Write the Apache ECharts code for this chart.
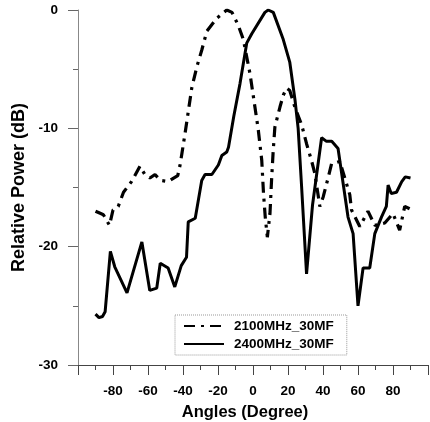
<!DOCTYPE html>
<html><head><meta charset="utf-8">
<script src="https://cdn.jsdelivr.net/npm/echarts@6/dist/echarts.min.js"></script>
<style>html,body{margin:0;padding:0;background:#fff}#c{width:430px;height:422px}</style>
</head><body><div id="c"></div>
<script>
const seriesNames = ['2100MHz_30MF', '2400MHz_30MF'];
const angles2100 = [-90,-87,-85.5,-82,-80,-77,-74,-69.4,-64.6,-61.8,-58.9,-56,-53,-48.5,-43,-41.8,-40.6,-38.8,-36.9,-35,-32.1,-29.3,-26.4,-20.7,-15,-12,-8.4,-5.5,-1.7,1.1,3,5,6,7,8.2,9.7,10.6,11.5,12.5,15.4,17.3,19.2,21,23.9,27.8,30.6,33.4,35.3,38.2,40.1,42.9,44.9,49.6,55.3,56.3,61,65.7,69.6,75.3,80,83.8,86.7,89.5];
const power2100 = [-17.0,-17.2,-17.3,-18.2,-16.9,-16.6,-15.4,-14.5,-13.2,-13.9,-14.2,-13.9,-14.4,-14.5,-14.0,-13.2,-12.1,-10.4,-8.5,-6.6,-4.8,-3.4,-1.8,-0.7,0,-0.2,-1.3,-2.5,-5.4,-8.2,-10.1,-12.7,-15.5,-17.5,-19.2,-17.2,-14.4,-12,-9.9,-8.2,-7.2,-6.6,-6.8,-8.2,-9.7,-11.3,-12.7,-13.8,-16.6,-15.8,-14.2,-13.0,-12.8,-15.6,-16.9,-18.3,-17.0,-18.2,-18.0,-17.2,-18.6,-16.6,-16.8];
const angles2400 = [-90,-88,-86,-84.5,-81.5,-79,-72,-63.5,-59,-55,-53,-48.5,-44.7,-41,-38,-37,-33,-29.3,-27.4,-23.5,-19.8,-17.8,-15,-14,-11,-7.4,-3.6,-0.7,6.8,8.7,11.6,17.3,21,24,25.8,27.8,30.6,34,39.2,42,45,48.6,54.3,57.2,60,62.9,66.7,69.6,73.4,76.2,77.2,79,82,85,87,90];
const power2400 = [-25.7,-26.0,-25.9,-25.5,-20.4,-21.7,-23.9,-19.6,-23.7,-23.5,-21.4,-21.8,-23.4,-21.6,-20.9,-17.9,-17.6,-14.4,-13.9,-13.9,-13.1,-12.3,-12.0,-11.6,-9.0,-6.2,-2.8,-2.0,-0.2,0,-0.2,-2.5,-4.4,-7.6,-10,-15,-22.3,-16.5,-10.8,-11.1,-11.1,-11.7,-17.5,-18.9,-25.0,-21.8,-21.8,-18.9,-17.5,-16.6,-14.8,-15.5,-15.4,-14.5,-14.1,-14.2];
const xTicks = [-80,-60,-40,-20,0,20,40,60,80];
const yTicks = [0,-10,-20,-30];
const xTitle = 'Angles (Degree)';
const yTitle = 'Relative Power (dB)';

const pairs = (xs, ys) => xs.map((x, i) => [x, ys[i]]);
const font = 'Liberation Sans, Arial, sans-serif';
const chart = echarts.init(document.getElementById('c'));
chart.setOption({
  animation: false,
  backgroundColor: '#fff',
  grid: {left: 78, right: 2, top: 10, bottom: 57, outerBoundsMode: 'none', containLabel: false},
  legend: {
    orient: 'vertical', left: 175, top: 315,
    padding: [4, 13, 4, 8], itemGap: 4, itemWidth: 40, itemHeight: 14,
    borderColor: '#999', borderWidth: 1, borderType: 'dotted',
    itemStyle: {opacity: 0},
    textStyle: {fontFamily: font, fontWeight: 'bold', fontSize: 13.5, color: '#000', padding: [0,0,0,5]},
    data: seriesNames
  },
  xAxis: {
    type: 'value', min: -100, max: 100, interval: 20,
    name: xTitle, nameLocation: 'middle', nameGap: 39,
    nameTextStyle: {fontFamily: font, fontWeight: 'bold', fontSize: 16.5, color: '#000', padding: [0, 16, 0, 0]},
    axisLine: {onZero: false, lineStyle: {color: '#444', width: 1}},
    axisTick: {length: 10, lineStyle: {color: '#444'}},
    minorTick: {show: true, splitNumber: 2, length: 5, lineStyle: {color: '#444'}},
    splitLine: {show: false},
    axisLabel: {margin: 19, fontFamily: font, fontWeight: 'bold', fontSize: 13.5, color: '#000',
      formatter: v => xTicks.includes(v) ? String(v) : ''}
  },
  yAxis: {
    type: 'value', min: -30, max: 0, interval: 10,
    name: yTitle, nameLocation: 'middle', nameGap: 49,
    nameTextStyle: {fontFamily: font, fontWeight: 'bold', fontSize: 18, color: '#000'},
    axisLine: {show: true, onZero: false, lineStyle: {color: '#888', width: 1}},
    axisTick: {show: true, length: 10, lineStyle: {color: '#666'}},
    minorTick: {show: true, splitNumber: 2, length: 5, lineStyle: {color: '#666'}},
    splitLine: {show: false},
    axisLabel: {margin: 20, fontFamily: font, fontWeight: 'bold', fontSize: 13.5, color: '#000',
      formatter: v => yTicks.includes(v) ? String(v) : ''}
  },
  series: [
    {name: seriesNames[0], type: 'line', symbol: 'none', data: pairs(angles2100, power2100),
      lineStyle: {color: '#000', width: 3.2, type: [11, 6, 3, 6]}, itemStyle: {color: '#000'}},
    {name: seriesNames[1], type: 'line', symbol: 'none', data: pairs(angles2400, power2400),
      lineStyle: {color: '#000', width: 3}, itemStyle: {color: '#000'}}
  ]
});
</script></body></html>
